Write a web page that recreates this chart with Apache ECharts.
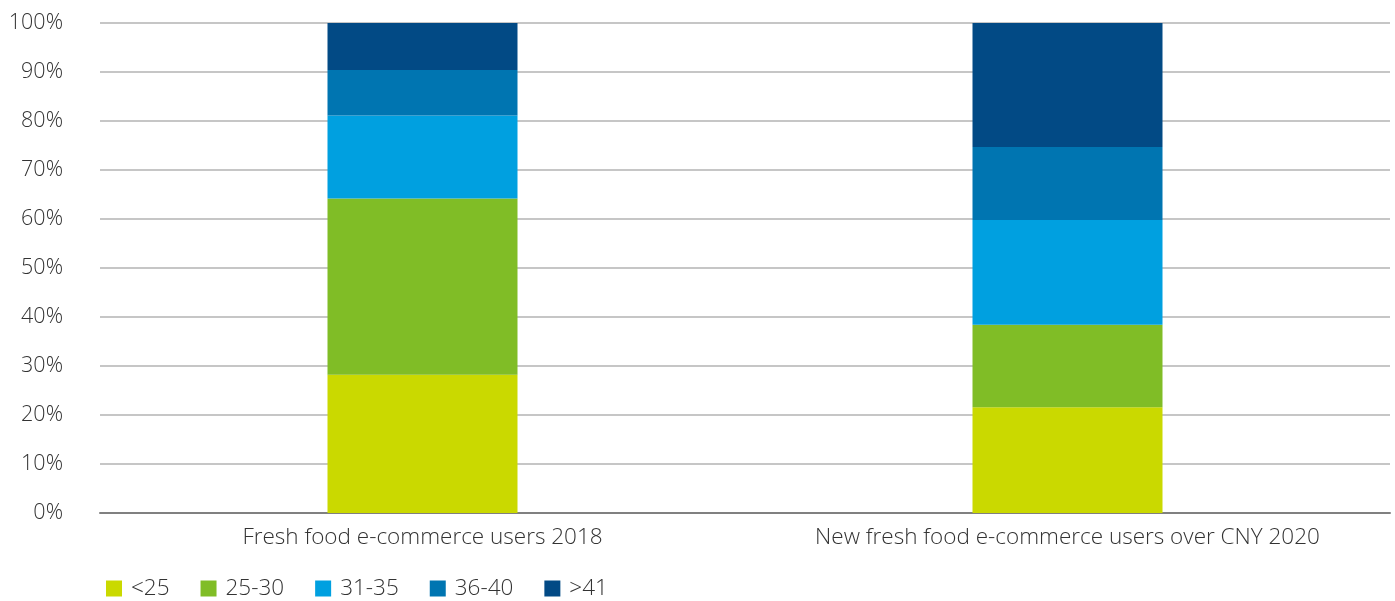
<!DOCTYPE html>
<html><head><meta charset="utf-8">
<script src="https://cdn.jsdelivr.net/npm/echarts@6/dist/echarts.min.js"></script>
<style>html,body{margin:0;padding:0;background:#fff}#c{width:1395px;height:601px}</style>
</head><body><div id="c"></div>
<script>
const categories = ['Fresh food e-commerce users 2018', 'New fresh food e-commerce users over CNY 2020'];
const seriesNames = ['<25', '25-30', '31-35', '36-40', '>41'];
const lt25 = [28.2, 21.6];
const s25_30 = [36.0, 16.8];
const s31_35 = [16.9, 21.4];
const s36_40 = [9.3, 14.9];
const gt41 = [9.6, 25.3];
const yTicks = [0, 10, 20, 30, 40, 50, 60, 70, 80, 90, 100];

const colors = ['#CAD900', '#80BD26', '#00A0E0', '#0075B1', '#024A85'];
const values = [lt25, s25_30, s31_35, s36_40, gt41];
const font = '"Open Sans", "Noto Sans", sans-serif';

const chart = echarts.init(document.getElementById('c'));
chart.setOption({
  animation: false,
  textStyle: { fontFamily: font },
  grid: { left: 100, right: 5, top: 23, bottom: 88, containLabel: false },
  legend: {
    left: 101, top: 572, itemWidth: 16, itemHeight: 16, itemGap: 31,
    icon: 'rect',
    textStyle: { fontFamily: font, fontSize: 22.5, color: '#333', fontWeight: 300, padding: [0, 0, 0, 4] },
    data: seriesNames
  },
  xAxis: {
    type: 'category', data: categories,
    axisLine: { lineStyle: { color: '#808080', width: 2 } },
    axisTick: { show: false },
    axisLabel: { interval: 0, hideOverlap: false, fontFamily: font, fontSize: 22.5, color: '#333', fontWeight: 300, margin: 13 }
  },
  yAxis: {
    type: 'value', min: 0, max: 100, interval: 10,
    axisLine: { show: false }, axisTick: { show: false },
    axisLabel: {
      fontFamily: font, fontSize: 21.5, color: '#333', fontWeight: 300, margin: 37,
      formatter: v => yTicks.includes(v) ? v + '%' : ''
    },
    splitLine: { lineStyle: { color: '#b3b3b3', width: 1.5 } }
  },
  series: seriesNames.map((n, i) => ({
    name: n, type: 'bar', stack: 'total', barWidth: 190,
    itemStyle: { color: colors[i] },
    data: values[i]
  }))
});
</script></body></html>
